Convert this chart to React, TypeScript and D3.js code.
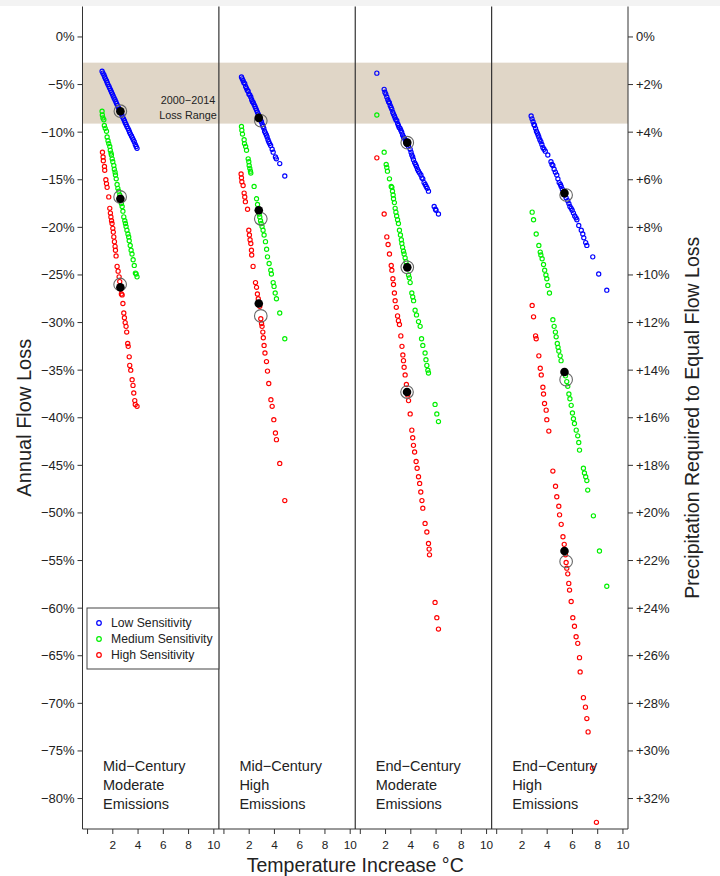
import React from "react";
import * as d3 from "d3";

type P = [number, number];

const panelNames: string[][] = [
  ["Mid\u2212Century", "Moderate", "Emissions"],
  ["Mid\u2212Century", "High", "Emissions"],
  ["End\u2212Century", "Moderate", "Emissions"],
  ["End\u2212Century", "High", "Emissions"],
];

const sensitivities = ["Low Sensitivity", "Medium Sensitivity", "High Sensitivity"];
const sensColors = ["#0000ff", "#00f000", "#ff0000"];

const xTicks = [0, 2, 4, 6, 8, 10];
const leftTicks = [0, -5, -10, -15, -20, -25, -30, -35, -40, -45, -50, -55, -60, -65, -70, -75, -80];
const rightTicks = [0, 2, 4, 6, 8, 10, 12, 14, 16, 18, 20, 22, 24, 26, 28, 30, 32];
const lossRange = [-2.7, -9.1];

// Panel 1: Mid-Century Moderate
const p1Low: P[] = [[1.15,-3.6],[1.22,-3.8],[1.3,-4.0],[1.36,-4.2],[1.42,-4.4],[1.5,-4.6],[1.56,-4.8],[1.62,-5.0],[1.7,-5.2],[1.76,-5.4],[1.83,-5.6],[1.9,-5.8],[1.97,-6.0],[2.03,-6.2],[2.1,-6.4],[2.17,-6.6],[2.24,-6.8],[2.3,-7.0],[2.37,-7.2],[2.44,-7.4],[2.5,-7.6],[2.58,-7.8],[2.65,-8.0],[2.72,-8.2],[2.78,-8.4],[2.85,-8.6],[2.92,-8.8],[2.98,-9.0],[3.05,-9.2],[3.12,-9.4],[3.2,-9.6],[3.27,-9.8],[3.33,-10.0],[3.4,-10.2],[3.48,-10.4],[3.55,-10.6],[3.62,-10.8],[3.7,-11.0],[3.78,-11.3],[3.85,-11.5],[3.92,-11.7]];
const p1Med: P[] = [[1.15,-7.8],[1.17,-8.2],[1.22,-8.5],[1.29,-8.7],[1.33,-9.3],[1.4,-9.6],[1.5,-9.9],[1.55,-10.5],[1.62,-10.9],[1.68,-11.2],[1.76,-11.5],[1.8,-11.9],[1.86,-12.2],[1.89,-12.4],[1.95,-12.8],[2.0,-13.1],[2.08,-13.5],[2.12,-13.9],[2.18,-14.2],[2.21,-14.5],[2.27,-14.9],[2.34,-15.5],[2.4,-15.9],[2.47,-16.2],[2.55,-16.6],[2.62,-17.1],[2.68,-17.5],[2.74,-17.8],[2.8,-18.3],[2.87,-18.9],[2.95,-19.3],[3.0,-19.6],[3.05,-19.9],[3.12,-20.3],[3.2,-20.7],[3.26,-21.0],[3.3,-21.4],[3.38,-21.9],[3.45,-22.4],[3.52,-22.8],[3.61,-23.4],[3.7,-24.0],[3.79,-24.8],[3.85,-24.9],[3.92,-25.2]];
const p1High: P[] = [[1.18,-12.1],[1.23,-12.6],[1.25,-13.0],[1.34,-13.6],[1.36,-14.0],[1.45,-15.0],[1.5,-15.4],[1.55,-15.8],[1.68,-16.8],[1.76,-18.0],[1.81,-18.5],[1.85,-18.9],[1.9,-19.3],[1.94,-19.6],[2.0,-20.1],[2.04,-20.5],[2.08,-21.0],[2.13,-21.5],[2.18,-22.0],[2.21,-22.4],[2.26,-23.0],[2.34,-24.1],[2.42,-24.6],[2.5,-25.2],[2.55,-25.7],[2.62,-26.5],[2.68,-27.0],[2.74,-27.1],[2.8,-28.0],[2.87,-29.0],[2.92,-29.5],[2.98,-30.0],[3.05,-30.4],[3.1,-31.0],[3.18,-32.2],[3.22,-32.5],[3.3,-33.6],[3.34,-34.5],[3.42,-35.0],[3.53,-36.0],[3.6,-36.6],[3.66,-37.4],[3.74,-38.2],[3.78,-38.6],[3.92,-38.8]];

// Panel 2: Mid-Century High
const p2Low: P[] = [[1.39,-4.2],[1.45,-4.4],[1.52,-4.6],[1.58,-4.8],[1.65,-4.9],[1.72,-5.2],[1.79,-5.4],[1.85,-5.6],[1.92,-5.7],[1.98,-6.0],[2.05,-6.1],[2.13,-6.3],[2.2,-6.6],[2.26,-6.8],[2.33,-6.9],[2.39,-7.1],[2.46,-7.3],[2.52,-7.5],[2.58,-7.7],[2.65,-7.9],[2.72,-8.1],[2.78,-8.3],[2.84,-8.5],[2.9,-8.7],[2.97,-8.9],[3.04,-9.2],[3.1,-9.4],[3.16,-9.6],[3.22,-9.9],[3.29,-10.1],[3.36,-10.3],[3.42,-10.5],[3.49,-10.8],[3.55,-11.0],[3.62,-11.2],[3.7,-11.4],[3.82,-11.8],[3.9,-12.1],[4.08,-12.6],[4.15,-12.8],[4.42,-13.3],[4.82,-14.6]];
const p2Med: P[] = [[1.39,-9.4],[1.42,-9.8],[1.47,-10.2],[1.6,-10.8],[1.63,-11.2],[1.72,-11.5],[1.79,-11.9],[1.92,-12.8],[1.97,-13.1],[2.0,-13.5],[2.05,-13.8],[2.1,-14.1],[2.13,-14.3],[2.39,-15.7],[2.58,-17.0],[2.66,-17.6],[2.74,-18.2],[2.8,-18.6],[2.84,-18.9],[2.9,-19.3],[2.95,-19.6],[3.02,-19.9],[3.1,-20.3],[3.18,-20.8],[3.29,-21.5],[3.38,-22.3],[3.45,-23.1],[3.58,-23.8],[3.71,-24.5],[3.76,-24.9],[3.9,-25.8],[3.97,-26.2],[4.06,-26.9],[4.16,-27.5],[4.42,-29.0],[4.82,-31.7]];
const p2High: P[] = [[1.36,-14.4],[1.39,-14.8],[1.42,-15.2],[1.52,-15.6],[1.6,-16.4],[1.65,-16.8],[1.7,-17.3],[1.87,-18.1],[1.97,-20.3],[2.02,-20.8],[2.07,-21.3],[2.13,-21.7],[2.18,-22.4],[2.2,-22.9],[2.31,-24.1],[2.5,-25.8],[2.58,-26.3],[2.65,-27.0],[2.72,-27.5],[2.84,-28.3],[2.92,-29.6],[2.98,-30.1],[3.02,-30.4],[3.08,-31.0],[3.12,-31.6],[3.18,-32.4],[3.25,-33.2],[3.37,-34.1],[3.45,-35.1],[3.55,-36.4],[3.72,-38.1],[3.82,-38.8],[3.95,-40.2],[4.08,-41.6],[4.16,-42.3],[4.42,-44.8],[4.82,-48.7]];

// Panel 3: End-Century Moderate
const p3Low: P[] = [[1.31,-3.8],[1.89,-5.5],[1.95,-5.8],[2.02,-6.0],[2.1,-6.3],[2.18,-6.6],[2.24,-6.8],[2.3,-6.9],[2.37,-7.2],[2.44,-7.4],[2.5,-7.6],[2.57,-7.9],[2.63,-8.1],[2.7,-8.3],[2.76,-8.5],[2.82,-8.7],[2.89,-8.8],[2.96,-9.1],[3.02,-9.3],[3.08,-9.5],[3.15,-9.6],[3.21,-9.8],[3.28,-10.0],[3.35,-10.3],[3.42,-10.5],[3.48,-10.6],[3.55,-10.8],[3.62,-11.0],[3.7,-11.3],[3.82,-11.5],[3.95,-11.8],[4.02,-12.1],[4.08,-12.4],[4.15,-12.6],[4.21,-12.9],[4.3,-13.2],[4.38,-13.4],[4.45,-13.6],[4.53,-13.9],[4.61,-14.1],[4.7,-14.3],[4.8,-14.5],[4.88,-14.8],[4.95,-14.9],[5.05,-15.3],[5.14,-15.5],[5.22,-15.7],[5.3,-15.9],[5.4,-16.2],[5.85,-17.8],[5.95,-18.1],[6.0,-18.2],[6.19,-18.6]];
const p3Med: P[] = [[1.31,-8.2],[1.89,-12.1],[2.05,-13.4],[2.1,-13.7],[2.15,-14.1],[2.31,-14.9],[2.45,-15.7],[2.5,-15.8],[2.55,-16.2],[2.6,-16.6],[2.63,-17.0],[2.7,-17.4],[2.76,-18.0],[2.82,-18.4],[2.88,-18.8],[2.95,-19.2],[3.02,-19.6],[3.1,-20.3],[3.18,-20.8],[3.25,-21.3],[3.29,-21.7],[3.35,-22.1],[3.42,-22.5],[3.47,-22.8],[3.55,-23.2],[3.62,-23.6],[3.7,-24.0],[3.82,-25.0],[3.88,-25.3],[3.95,-25.8],[4.08,-26.9],[4.15,-27.3],[4.22,-27.7],[4.34,-28.7],[4.45,-29.2],[4.61,-29.9],[4.74,-30.4],[4.85,-31.7],[4.95,-32.4],[5.13,-33.2],[5.2,-33.9],[5.27,-34.5],[5.35,-35.0],[5.4,-35.3],[5.92,-38.6],[6.06,-39.6],[6.19,-40.4]];
const p3High: P[] = [[1.31,-12.7],[1.89,-18.6],[2.1,-21.0],[2.2,-21.8],[2.31,-22.8],[2.45,-24.0],[2.5,-24.5],[2.58,-25.4],[2.63,-26.0],[2.7,-26.9],[2.76,-27.7],[2.85,-28.4],[2.95,-29.3],[3.02,-29.8],[3.1,-30.2],[3.21,-31.4],[3.3,-32.5],[3.37,-33.4],[3.42,-34.0],[3.47,-34.7],[3.55,-35.5],[3.65,-36.5],[3.75,-37.6],[3.82,-38.2],[3.95,-39.6],[4.08,-41.3],[4.15,-42.1],[4.21,-42.9],[4.3,-43.6],[4.42,-44.6],[4.5,-45.3],[4.61,-46.2],[4.7,-46.9],[4.79,-47.8],[4.88,-48.7],[4.95,-49.5],[5.13,-51.1],[5.27,-52.0],[5.4,-53.2],[5.45,-53.8],[5.48,-54.4],[5.92,-59.4],[6.06,-61.0],[6.19,-62.2]];

// Panel 4: End-Century High
const p4Low: P[] = [[2.73,-8.3],[2.8,-8.6],[2.88,-8.9],[2.95,-9.2],[3.0,-9.3],[3.08,-9.6],[3.15,-9.9],[3.22,-10.1],[3.28,-10.3],[3.34,-10.5],[3.42,-10.8],[3.5,-11.0],[3.58,-11.3],[3.66,-11.6],[3.75,-11.8],[3.85,-12.0],[4.05,-12.4],[4.3,-13.1],[4.38,-13.4],[4.45,-13.5],[4.55,-13.9],[4.65,-14.2],[4.76,-14.5],[4.85,-14.9],[4.95,-15.3],[5.05,-15.5],[5.11,-15.7],[5.2,-16.0],[5.3,-16.3],[5.4,-16.6],[5.5,-16.9],[5.63,-17.2],[5.72,-17.5],[5.8,-17.8],[5.9,-18.0],[5.98,-18.2],[6.08,-18.5],[6.18,-18.8],[6.28,-19.0],[6.35,-19.2],[6.5,-19.8],[6.7,-20.3],[6.82,-20.7],[6.9,-21.1],[7.05,-21.6],[7.14,-21.9],[7.61,-23.1],[8.08,-24.9],[8.72,-26.6]];
const p4Med: P[] = [[2.81,-18.4],[2.92,-19.2],[3.13,-20.7],[3.34,-21.9],[3.45,-22.6],[3.5,-22.9],[3.6,-23.3],[3.71,-23.9],[3.8,-24.5],[3.9,-25.0],[3.97,-25.4],[4.05,-26.1],[4.18,-26.9],[4.45,-29.7],[4.55,-30.4],[4.65,-31.0],[4.71,-31.5],[4.8,-32.2],[4.86,-32.6],[4.92,-33.0],[5.03,-33.5],[5.1,-34.0],[5.45,-35.6],[5.55,-36.2],[5.63,-36.7],[5.72,-37.5],[5.8,-38.0],[5.9,-38.7],[6.0,-39.5],[6.08,-40.1],[6.16,-40.6],[6.3,-41.3],[6.42,-41.9],[6.5,-42.6],[6.56,-43.4],[6.87,-45.3],[6.95,-45.8],[7.05,-46.2],[7.14,-46.6],[7.21,-47.6],[7.66,-50.3],[8.14,-54.0],[8.72,-57.7]];
const p4High: P[] = [[2.81,-28.2],[2.92,-29.4],[3.08,-31.4],[3.13,-31.7],[3.34,-33.5],[3.45,-34.8],[3.53,-35.5],[3.66,-36.8],[3.71,-37.5],[3.79,-38.5],[3.92,-39.2],[3.97,-40.2],[4.13,-41.4],[4.45,-45.6],[4.66,-47.2],[4.76,-48.3],[4.92,-49.3],[4.98,-50.2],[5.11,-51.2],[5.25,-52.5],[5.35,-53.3],[5.45,-54.4],[5.5,-55.2],[5.55,-55.8],[5.63,-56.4],[5.71,-57.4],[5.77,-58.1],[5.9,-59.3],[6.03,-61.0],[6.16,-61.9],[6.29,-63.0],[6.42,-63.7],[6.56,-65.2],[6.61,-66.7],[6.87,-69.4],[7.03,-70.4],[7.14,-71.6],[7.24,-73.0],[7.58,-76.8],[7.9,-82.5]];

const panelSeries: P[][][] = [
  [p1Low, p1Med, p1High],
  [p2Low, p2Med, p2High],
  [p3Low, p3Med, p3High],
  [p4Low, p4Med, p4High],
];

// filled black markers (ensemble mean) and grey rings (median) per panel, low/med/high
const meanPoints: P[][] = [
  [[2.6,-7.8],[2.6,-17.0],[2.6,-26.3]],
  [[2.76,-8.5],[2.76,-18.2],[2.76,-28.0]],
  [[3.72,-11.1],[3.72,-24.2],[3.7,-37.3]],
  [[5.37,-16.4],[5.37,-35.2],[5.37,-54.0]],
];
const medianPoints: P[][] = [
  [[2.6,-7.8],[2.58,-16.8],[2.58,-26.0]],
  [[2.92,-8.8],[2.92,-19.1],[2.92,-29.3]],
  [[3.72,-11.1],[3.72,-24.2],[3.7,-37.3]],
  [[5.5,-16.6],[5.5,-36.0],[5.5,-55.1]],
];

const FONT = "'Liberation Sans', Arial, Helvetica, sans-serif";

export default function App() {
  const W = 720, H = 876;
  const left = 82.5, right = 628, top = 6.5, bottom = 829;
  const pw = (right - left) / 4;
  const y = d3.scaleLinear().domain([-83.2, 3.2]).range([bottom, top]);
  const xs = [0, 1, 2, 3].map((i) =>
    d3.scaleLinear().domain([-0.4, 10.4]).range([left + i * pw, left + (i + 1) * pw])
  );
  const axisColor = "#333";
  const textColor = "#222";
  const fmtLeft = (v: number) => (v === 0 ? "0%" : "\u2212" + Math.abs(v) + "%");
  const fmtRight = (v: number) => (v === 0 ? "0%" : "+" + v + "%");

  return (
    <svg width={W} height={H} style={{ position: "absolute", left: 0, top: 0, background: "#fff" }} fontFamily={FONT}>
      <rect x={0} y={0} width={W} height={H} fill="#fff" />
      <rect x={0} y={0} width={W} height={6} fill="#f3f3f3" />
      {/* loss range band */}
      <rect x={left} y={y(lossRange[0])} width={right - left} height={y(lossRange[1]) - y(lossRange[0])} fill="#e0d6c7" />
      <text x={188} y={104} fontSize={10.8} textAnchor="middle" fill={textColor}>2000{"\u2212"}2014</text>
      <text x={188} y={119} fontSize={10.8} textAnchor="middle" fill={textColor}>Loss Range</text>

      {/* frame */}
      <line x1={left} x2={left} y1={top} y2={bottom} stroke={axisColor} strokeWidth={1} />
      <line x1={right} x2={right} y1={top} y2={bottom} stroke={axisColor} strokeWidth={1} />
      <line x1={left} x2={right} y1={bottom} y2={bottom} stroke={axisColor} strokeWidth={1} />
      {[1, 2, 3].map((i) => (
        <line key={i} x1={left + i * pw} x2={left + i * pw} y1={top} y2={bottom} stroke={axisColor} strokeWidth={1.2} />
      ))}

      {/* left axis */}
      {leftTicks.map((t) => (
        <g key={"l" + t}>
          <line x1={left - 5} x2={left} y1={y(t)} y2={y(t)} stroke={axisColor} />
          <text x={left - 8} y={y(t) + 4.5} fontSize={13} textAnchor="end" fill={textColor}>{fmtLeft(t)}</text>
        </g>
      ))}
      {/* right axis */}
      {rightTicks.map((t) => (
        <g key={"r" + t}>
          <line x1={right} x2={right + 5} y1={y(-t * 2.5)} y2={y(-t * 2.5)} stroke={axisColor} />
          <text x={right + 8} y={y(-t * 2.5) + 4.5} fontSize={13} textAnchor="start" fill={textColor}>{fmtRight(t)}</text>
        </g>
      ))}
      {/* bottom axes */}
      {xs.map((x, i) => (
        <g key={"x" + i}>
          {xTicks.map((t) => (
            <g key={t}>
              <line x1={x(t)} x2={x(t)} y1={bottom} y2={bottom + 5} stroke={axisColor} />
              {t > 0 && (
                <text x={x(t)} y={bottom + 20} fontSize={11.8} textAnchor="middle" fill={textColor}>{t}</text>
              )}
            </g>
          ))}
        </g>
      ))}

      {/* points */}
      {panelSeries.map((series, i) => (
        <g key={"p" + i}>
          {series.map((pts, s) => (
            <g key={s}>
              {pts.map((p, k) => (
                <circle key={k} cx={xs[i](p[0])} cy={y(p[1])} r={2.1} fill="none" stroke={sensColors[s]} strokeWidth={1.15} />
              ))}
            </g>
          ))}
          {medianPoints[i].map((p, k) => (
            <circle key={"m" + k} cx={xs[i](p[0])} cy={y(p[1])} r={6.3} fill="none" stroke="#666" strokeWidth={1.1} />
          ))}
          {meanPoints[i].map((p, k) => (
            <circle key={"a" + k} cx={xs[i](p[0])} cy={y(p[1])} r={4.3} fill="#000" />
          ))}
        </g>
      ))}

      {/* panel labels */}
      {panelNames.map((lines, i) => (
        <text key={"n" + i} x={left + i * pw + 20.5} fontSize={14.5} fill={textColor}>
          {lines.map((ln, k) => (
            <tspan key={k} x={left + i * pw + 20.5} y={771 + k * 19}>{ln}</tspan>
          ))}
        </text>
      ))}

      {/* legend */}
      <rect x={87} y={608} width={left + pw - 87} height={61} fill="#fff" stroke="#444" strokeWidth={1} />
      {sensitivities.map((s, k) => (
        <g key={"lg" + k}>
          <circle cx={99} cy={623 + k * 16} r={2.3} fill="none" stroke={sensColors[k]} strokeWidth={1.2} />
          <text x={111} y={627 + k * 16} fontSize={12.2} fill={textColor}>{s}</text>
        </g>
      ))}

      {/* titles */}
      <text x={(left + right) / 2} y={872} fontSize={19.5} textAnchor="middle" fill={textColor}>Temperature Increase {"\u00B0"}C</text>
      <text transform={`translate(31,${y(-40)}) rotate(-90)`} fontSize={20} textAnchor="middle" fill={textColor}>Annual Flow Loss</text>
      <text transform={`translate(699,${y(-40)}) rotate(-90)`} fontSize={19.5} textAnchor="middle" fill={textColor}>Precipitation Required to Equal Flow Loss</text>
    </svg>
  );
}
